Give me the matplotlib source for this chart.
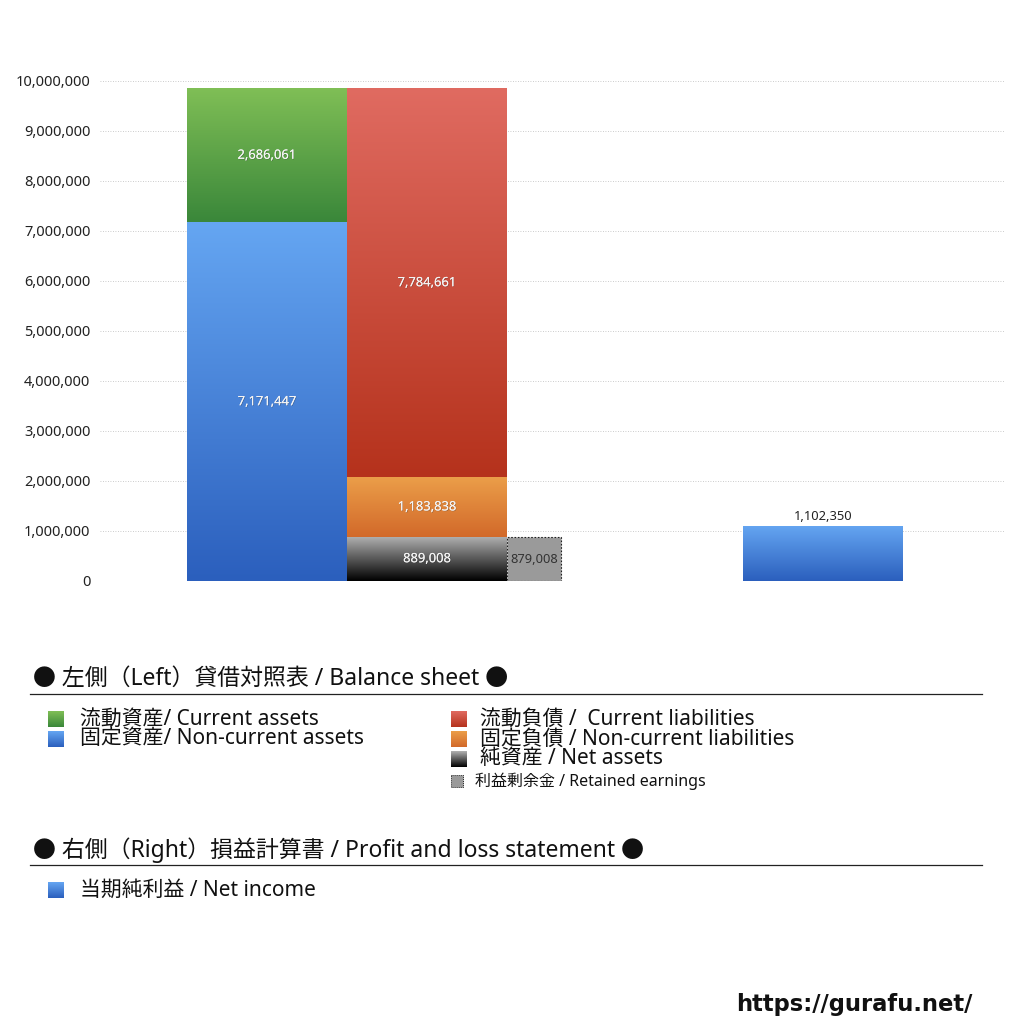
import numpy as np
import matplotlib
matplotlib.use('Agg')
import matplotlib.pyplot as plt
import matplotlib.patches as patches
import matplotlib.patheffects as pe
from matplotlib.colors import to_rgb

plt.rcParams['font.family'] = ['Noto Sans', 'Noto Sans CJK JP', 'DejaVu Sans']

# balance sheet (left side) and P/L (right side)
assets_labels = ['固定資産/ Non-current assets', '流動資産/ Current assets']
assets_values = [7171447, 2686061]
liab_labels = ['純資産 / Net assets', '固定負債 / Non-current liabilities', '流動負債 /  Current liabilities']
liab_values = [889008, 1183838, 7784661]
retained_label = '利益剰余金 / Retained earnings'
retained_value = 879008
pl_label = '当期純利益 / Net income'
pl_value = 1102350

yticks = list(range(0, 10000001, 1000000))

# gradient colours (top, bottom)
c_green = ('#80bf56', '#3a873a')
c_blue = ('#65a6f2', '#2b5fbd')
c_red = ('#e06b61', '#b5321c')
c_orange = ('#eb9e49', '#d2692a')
c_black = ('#b2b2b2', '#000000')
c_gray = '#9a9a9a'


def gradient(top, bottom, n=256):
    t = np.linspace(0, 1, n)[:, None]
    a = np.array(to_rgb(bottom))
    b = np.array(to_rgb(top))
    return (a + (b - a) * t)[:, None, :]


def grad_bar(ax, bar, cols):
    x0, y0 = bar.get_x(), bar.get_y()
    w, h = bar.get_width(), bar.get_height()
    im = ax.imshow(gradient(*cols), extent=[x0, x0 + w, y0, y0 + h],
                   origin='lower', aspect='auto', zorder=2, interpolation='bilinear')
    im.set_clip_path(bar)


fig = plt.figure(figsize=(10.24, 10.24), dpi=100)
ax = fig.add_axes([100 / 1024, 1 - 581 / 1024, 905 / 1024, 500 / 1024])

shadow = [pe.withSimplePatchShadow(offset=(0.5, -0.5), shadow_rgbFace='#333333', alpha=0.35), pe.Normal()]
vfont = dict(fontsize=9.3, fontweight='light', zorder=4)

# left stack: assets
bottom = 0
for v, cols in zip(assets_values, [c_blue, c_green]):
    b = ax.bar(1, v, width=1, bottom=bottom, facecolor='none', edgecolor='none', zorder=2)[0]
    grad_bar(ax, b, cols)
    ax.text(1, bottom + v / 2, f'{v:,}', ha='center', va='center', color='#f4f4f4',
            path_effects=shadow, **vfont)
    bottom += v

# middle stack: liabilities + net assets
bottom = 0
for v, cols in zip(liab_values, [c_black, c_orange, c_red]):
    b = ax.bar(2, v, width=1, bottom=bottom, facecolor='none', edgecolor='none', zorder=2)[0]
    grad_bar(ax, b, cols)
    ax.text(2, bottom + v / 2, f'{v:,}', ha='center', va='center', color='#f4f4f4',
            path_effects=shadow, **vfont)
    bottom += v

# retained earnings
rw = 54 / 160
ax.bar(2.5 + rw / 2, retained_value, width=rw, color=c_gray, edgecolor='#222222',
       linestyle=(0, (1.5, 1.5)), linewidth=0.8, zorder=2)
ax.text(2.5 + rw / 2, retained_value / 2, f'{retained_value:,}', ha='center', va='center',
        color='#333333', **vfont)

# right: net income
xr = 1 + (743 - 187) / 160
b = ax.bar(xr, pl_value, width=1, facecolor='none', edgecolor='none', zorder=2)[0]
grad_bar(ax, b, c_blue)
ax.text(xr, pl_value + 60000, f'{pl_value:,}', ha='center', va='bottom',
        color='#222222', **vfont)

x_left = 1 - 0.5 - 87 / 160
ax.set_xlim(x_left, x_left + 905 / 160)
ax.set_ylim(0, 10000000)
ax.set_yticks(yticks)
ax.set_yticklabels([f'{t:,}' for t in yticks], fontsize=10.5, color='#222222')
ax.set_xticks([])
ax.tick_params(axis='y', length=0, pad=7)
for s in ax.spines.values():
    s.set_visible(False)
ax.yaxis.grid(True, linestyle=(0, (1, 2)), color='#bbbbbb', linewidth=0.6, zorder=0)
ax.set_axisbelow(True)

# legend area drawn in pixel coordinates
lg = fig.add_axes([0, 0, 1, 1])
lg.set_xlim(0, 1024)
lg.set_ylim(1024, 0)
lg.axis('off')


def square(x, y, size, cols):
    if isinstance(cols, tuple):
        lg.imshow(gradient(*cols)[::-1], extent=[x, x + size, y + size / 2, y - size / 2],
                  aspect='auto', zorder=2, interpolation='bilinear')
    else:
        lg.add_patch(patches.Rectangle((x, y - size / 2), size, size, facecolor=cols,
                                       edgecolor='#222222', linestyle=(0, (1, 1)), linewidth=0.7))


lg.text(33, 679, '● 左側（Left）貸借対照表 / Balance sheet ●', fontsize=16.5,
        va='center', ha='left', color='#111111')
lg.plot([30, 982], [694, 694], color='#222222', linewidth=0.9)

square(48, 719, 16, c_green)
lg.text(80, 719, assets_labels[1], fontsize=15, va='center', color='#111111')
square(48, 739, 16, c_blue)
lg.text(80, 739, assets_labels[0], fontsize=15, va='center', color='#111111')

square(451, 719, 16, c_red)
lg.text(480, 719, liab_labels[2], fontsize=15, va='center', color='#111111')
square(451, 739, 16, c_orange)
lg.text(480, 739, liab_labels[1], fontsize=15, va='center', color='#111111')
square(451, 759, 16, c_black)
lg.text(480, 759, liab_labels[0], fontsize=15, va='center', color='#111111')
square(451, 781, 12, c_gray)
lg.text(475, 781, retained_label, fontsize=11.5, va='center', color='#111111')

lg.text(33, 850, '● 右側（Right）損益計算書 / Profit and loss statement ●', fontsize=16.5,
        va='center', ha='left', color='#111111')
lg.plot([30, 982], [865, 865], color='#222222', linewidth=0.9)
square(48, 890, 16, c_blue)
lg.text(80, 890, pl_label, fontsize=15, va='center', color='#111111')

lg.text(972, 1004, 'https://gurafu.net/', fontsize=16.3, fontweight='bold',
        family='DejaVu Sans', ha='right', va='center', color='#111111')

plt.savefig('out.png', dpi=100)
